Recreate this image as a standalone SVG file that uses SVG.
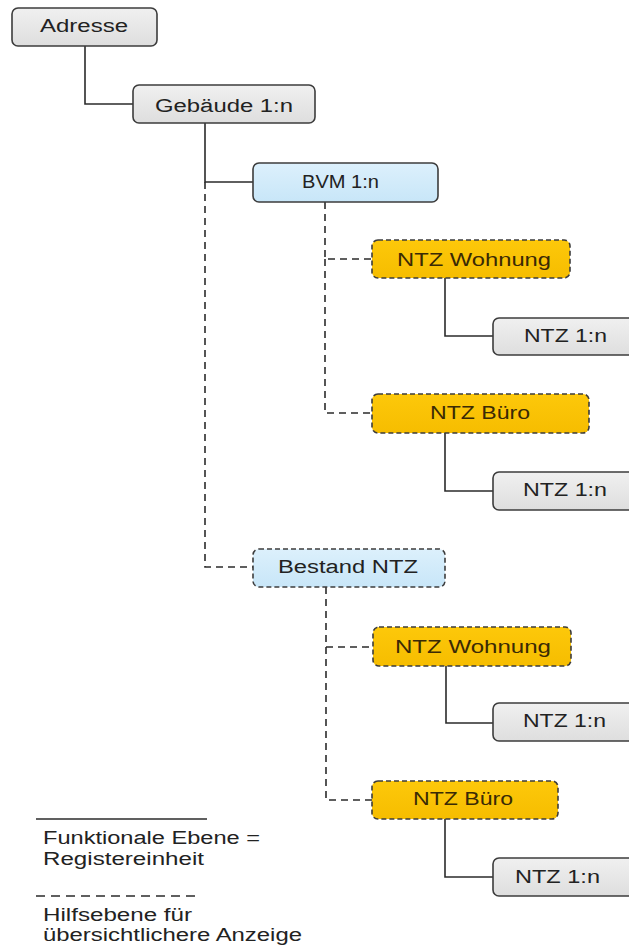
<svg xmlns="http://www.w3.org/2000/svg" width="629" height="947" viewBox="0 0 629 947">
<defs>
<linearGradient id="gGray" x1="0" y1="0" x2="0" y2="1"><stop offset="0" stop-color="#f0f0f0"/><stop offset="1" stop-color="#dedede"/></linearGradient>
<linearGradient id="gBlue" x1="0" y1="0" x2="0" y2="1"><stop offset="0" stop-color="#dcf0fc"/><stop offset="1" stop-color="#c8e6f8"/></linearGradient>
<linearGradient id="gYel" x1="0" y1="0" x2="0" y2="1"><stop offset="0" stop-color="#fdc80a"/><stop offset="1" stop-color="#f6bd00"/></linearGradient>
</defs>
<style>
.box{stroke:#3c3c3c;stroke-width:1.6}
.gray{fill:url(#gGray)}
.blue{fill:url(#gBlue)}
.yel{fill:url(#gYel)}
.dash{stroke-dasharray:5 3}
.t{font-family:"Liberation Sans",Arial,sans-serif;font-size:18px;fill:#222}
.ty{fill:#3a2a05}
.c{fill:none;stroke:#2b2b2b;stroke-width:1.6}
.cd{stroke-dasharray:7 5}
.ld{stroke-dasharray:9 6}
</style>
<rect width="629" height="947" fill="#ffffff"/>
<g id="connectors">
<path class="c" d="M85,46 V104 H133"/>
<path class="c" d="M205,123 V182 H253"/>
<path class="c cd" d="M205,182 V567 H253"/>
<path class="c cd" d="M325,202 V259 H372"/>
<path class="c cd" d="M325,259 V413 H372"/>
<path class="c" d="M445,278 V336 H493"/>
<path class="c" d="M445,433 V491 H493"/>
<path class="c cd" d="M326,587 V647 H373"/>
<path class="c cd" d="M326,647 V800 H372"/>
<path class="c" d="M446,666 V723 H493"/>
<path class="c" d="M445,819 V877 H493"/>
</g>
<g id="n-adresse"><rect class="box gray" x="12" y="8" width="145" height="38" rx="6"/><text class="t" x="40" y="32" textLength="88" lengthAdjust="spacingAndGlyphs">Adresse</text></g>
<g id="n-gebaeude"><rect class="box gray" x="133" y="85" width="182" height="38" rx="6"/><text class="t" x="155" y="112" textLength="138" lengthAdjust="spacingAndGlyphs">Gebäude 1:n</text></g>
<g id="n-bvm"><rect class="box blue" x="253" y="163" width="185" height="39" rx="6"/><text class="t" x="302" y="188" textLength="77" lengthAdjust="spacingAndGlyphs">BVM 1:n</text></g>
<g id="n-wohnung1"><rect class="box yel dash" x="372" y="240" width="198" height="38" rx="6"/><text class="t ty" x="397" y="266" textLength="154" lengthAdjust="spacingAndGlyphs">NTZ Wohnung</text></g>
<g id="n-ntz1"><rect class="box gray" x="493" y="318" width="150" height="37" rx="6"/><text class="t" x="524" y="342" textLength="83" lengthAdjust="spacingAndGlyphs">NTZ 1:n</text></g>
<g id="n-buero1"><rect class="box yel dash" x="372" y="394" width="217" height="39" rx="6"/><text class="t ty" x="430" y="419" textLength="100" lengthAdjust="spacingAndGlyphs">NTZ Büro</text></g>
<g id="n-ntz2"><rect class="box gray" x="493" y="472" width="150" height="38" rx="6"/><text class="t" x="523" y="496" textLength="84" lengthAdjust="spacingAndGlyphs">NTZ 1:n</text></g>
<g id="n-bestand"><rect class="box blue dash" x="253" y="549" width="192" height="38" rx="6"/><text class="t" x="278" y="573" textLength="140" lengthAdjust="spacingAndGlyphs">Bestand NTZ</text></g>
<g id="n-wohnung2"><rect class="box yel dash" x="373" y="627" width="198" height="39" rx="6"/><text class="t ty" x="395" y="653" textLength="156" lengthAdjust="spacingAndGlyphs">NTZ Wohnung</text></g>
<g id="n-ntz3"><rect class="box gray" x="493" y="703" width="150" height="38" rx="6"/><text class="t" x="523" y="727" textLength="83" lengthAdjust="spacingAndGlyphs">NTZ 1:n</text></g>
<g id="n-buero2"><rect class="box yel dash" x="372" y="781" width="186" height="38" rx="6"/><text class="t ty" x="413" y="805" textLength="100" lengthAdjust="spacingAndGlyphs">NTZ Büro</text></g>
<g id="n-ntz4"><rect class="box gray" x="493" y="858" width="150" height="38" rx="6"/><text class="t" x="515" y="883" textLength="85" lengthAdjust="spacingAndGlyphs">NTZ 1:n</text></g>
<g id="legend">
<line class="c" x1="36" y1="819" x2="207" y2="819"/>
<text class="t" x="43" y="844" textLength="217" lengthAdjust="spacingAndGlyphs">Funktionale Ebene =</text>
<text class="t" x="43" y="865" textLength="161" lengthAdjust="spacingAndGlyphs">Registereinheit</text>
<line class="c ld" x1="36" y1="896" x2="200" y2="896"/>
<text class="t" x="43" y="921" textLength="149" lengthAdjust="spacingAndGlyphs">Hilfsebene für</text>
<text class="t" x="43" y="941" textLength="259" lengthAdjust="spacingAndGlyphs">übersichtlichere Anzeige</text>
</g>
</svg>
